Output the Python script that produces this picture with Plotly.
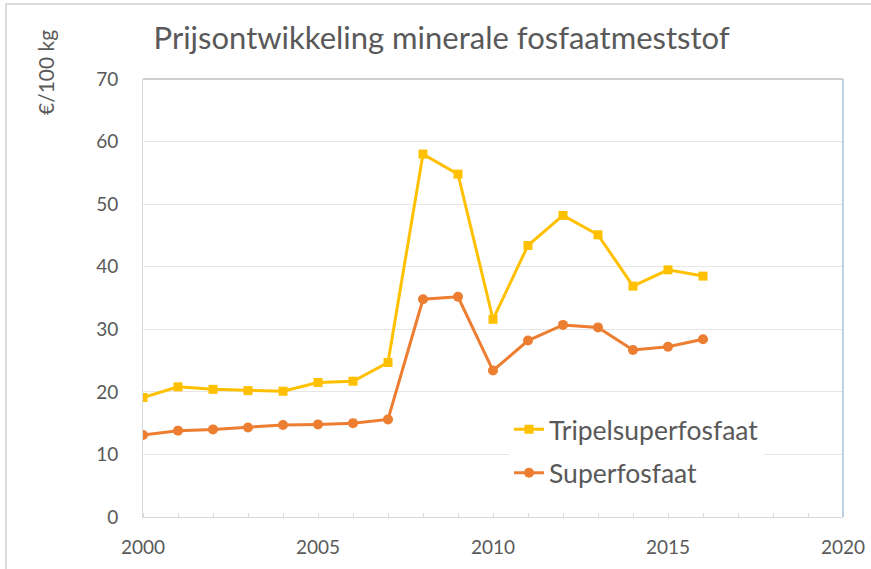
import plotly.graph_objects as go

years = list(range(2000, 2017))
tripel = [19.1, 20.8, 20.4, 20.2, 20.1, 21.5, 21.7, 24.7, 58.0, 54.8, 31.6, 43.4, 48.2, 45.1, 36.9, 39.5, 38.5]
super_ = [13.1, 13.8, 14.0, 14.3, 14.7, 14.8, 15.0, 15.6, 34.8, 35.2, 23.4, 28.2, 30.7, 30.3, 26.7, 27.2, 28.4]
series_names = ["Tripelsuperfosfaat", "Superfosfaat"]
title = "Prijsontwikkeling minerale fosfaatmeststof"
ytitle = "€/100 kg"

FONT = "Lato, Open Sans, sans-serif"
fig = go.Figure()
fig.add_trace(go.Scatter(x=years, y=tripel, name=series_names[0], mode="lines+markers",
                         legendgroup="a",
                         line=dict(color="#FFC000", width=3),
                         marker=dict(symbol="square", size=9, color="#FFC000")))
fig.add_trace(go.Scatter(x=years, y=super_, name=series_names[1], mode="lines+markers",
                         legendgroup="b",
                         line=dict(color="#ED7D31", width=3),
                         marker=dict(symbol="circle", size=10, color="#ED7D31")))

fig.update_layout(
    width=871, height=569,
    margin=dict(l=143, r=28, t=79, b=52, autoexpand=False),
    paper_bgcolor="white", plot_bgcolor="white",
    font=dict(family=FONT, color="#595959", size=19),
    title=dict(text=title, x=0.507, xanchor="center", y=1 - 38 / 569, yanchor="middle",
               font=dict(size=31, color="#595959", family=FONT)),
    showlegend=True,
    legend=dict(x=(509 - 143) / 700, y=(517 - 451) / 438, xanchor="left", yanchor="middle",
                bgcolor="white", font=dict(size=26.5, color="#595959", family=FONT),
                itemwidth=30, tracegroupgap=6),
    xaxis=dict(range=[2000, 2020], tickvals=[2000, 2005, 2010, 2015, 2020],
               showgrid=False, showline=True, linecolor="#D9D9D9", linewidth=1,
               ticks="outside", ticklen=0, zeroline=False, automargin=False,
               ticklabelstandoff=13,
               minor=dict(dtick=1, ticks="inside", ticklen=4, tickcolor="#D9D9D9"),
               tickfont=dict(size=19, color="#595959")),
    yaxis=dict(range=[0, 70], dtick=10, showgrid=True, gridcolor="#E6E6E6", gridwidth=1,
               showline=True, linecolor="#D9D9D9", zeroline=False, automargin=False,
               ticks="", ticklabelstandoff=20,
               tickfont=dict(size=19, color="#595959")),
)

# plot area top and right border, outer chart border
fig.add_shape(type="line", xref="paper", yref="paper", x0=0, x1=1, y0=1, y1=1,
              line=dict(color="#BFBFBF", width=1.5))
fig.add_shape(type="line", xref="paper", yref="paper", x0=1, x1=1, y0=0, y1=1,
              line=dict(color="#A9C4DC", width=1.5))
fig.add_annotation(text=ytitle, xref="paper", yref="paper", x=-98 / 700, y=(517 - 72) / 438,
                   xanchor="center", yanchor="middle", textangle=-90, showarrow=False,
                   font=dict(size=21, color="#595959", family=FONT))
fig.add_shape(type="rect", xref="paper", yref="paper",
              x0=-137 / 700, x1=(871 - 143 + 20) / 700, y0=-70 / 438, y1=(517 - 4) / 438,
              line=dict(color="#D0D0D0", width=1.5), layer="below")

fig.write_html("out.html", config={"displayModeBar": False},
               post_script="document.body.style.margin='0';")
